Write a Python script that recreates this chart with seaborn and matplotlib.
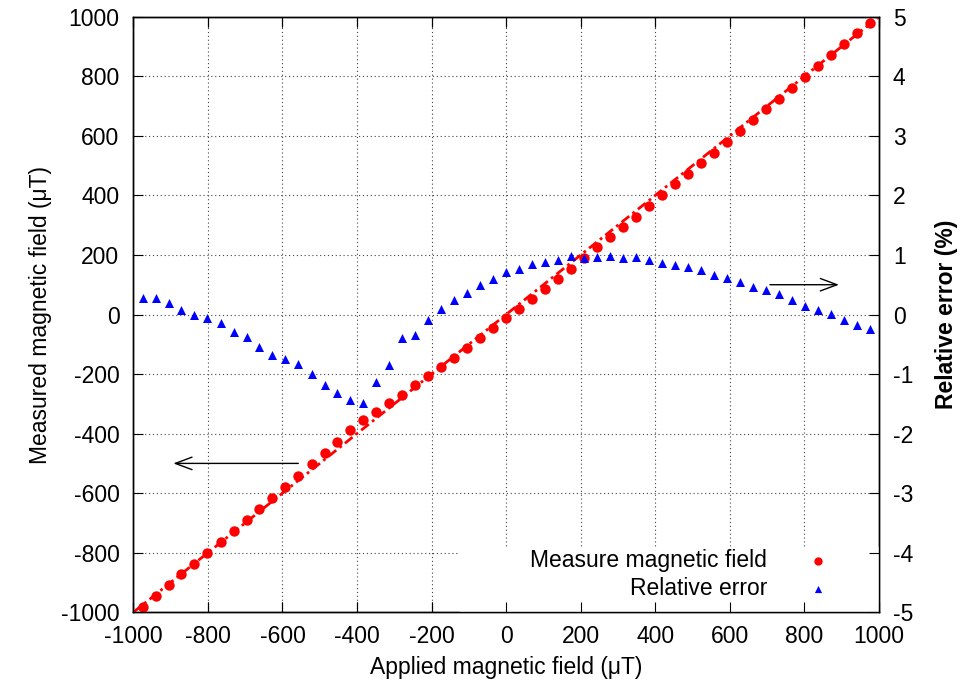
import matplotlib
matplotlib.use("Agg")
import matplotlib.pyplot as plt
import seaborn as sns
from matplotlib.patches import Rectangle

# applied field (uT), measured field (uT) and relative error (%)
applied_field = [
    -975, -940, -905, -871, -836, -801, -766, -731, -696, -662,
    -627, -592, -557, -522, -487, -453, -418, -383, -348, -313,
    -279, -244, -209, -174, -139, -104, -70, -35, 0, 35,
    70, 104, 139, 174, 209, 244, 279, 313, 348, 383,
    418, 453, 487, 522, 557, 592, 627, 662, 696, 731,
    766, 801, 836, 871, 905, 940, 975,
]
measured_field = [
    -981, -945, -909, -872, -838, -800, -765, -726, -690, -652,
    -615, -578, -542, -503, -466, -427, -389, -354, -326, -296,
    -270, -237, -206, -175, -145, -111, -78, -47, -13, 20,
    52, 85, 119, 153, 191, 226, 259, 295, 328, 365,
    401, 437, 472, 508, 543, 580, 616, 653, 689, 724,
    762, 799, 835, 871, 908, 944, 980,
]
relative_error = [
    0.27, 0.28, 0.19, 0.08, -0.01, -0.06, -0.14, -0.29, -0.38, -0.54,
    -0.68, -0.74, -0.83, -1.00, -1.18, -1.31, -1.44, -1.49, -1.14, -0.85,
    -0.39, -0.35, -0.09, 0.09, 0.24, 0.36, 0.49, 0.59, 0.71, 0.76,
    0.84, 0.88, 0.92, 0.98, 0.95, 0.96, 0.99, 0.95, 0.97, 0.91,
    0.87, 0.83, 0.80, 0.74, 0.67, 0.61, 0.54, 0.46, 0.41, 0.35,
    0.25, 0.15, 0.08, 0.01, -0.09, -0.18, -0.25,
]
ideal_x = [-1000, 1000]
ideal_y = [-1000, 1000]

field_ticks = list(range(-1000, 1001, 200))
error_ticks = list(range(-5, 6))

FS = 16.5

sns.set_style("white", rc={"text.color": "black", "axes.labelcolor": "black",
                           "xtick.color": "black", "ytick.color": "black",
                           "axes.edgecolor": "black"})
plt.rcParams["font.family"] = ["Liberation Sans", "DejaVu Sans"]
plt.rcParams["axes.unicode_minus"] = False

fig = plt.figure(figsize=(9.62, 6.88), dpi=100)
ax = fig.add_axes([133.3 / 962, 75.7 / 688, 745.7 / 962, 595.6 / 688])
ax2 = ax.twinx()

# y = x reference line, then the measurements
sns.lineplot(x=ideal_x, y=ideal_y, ax=ax, color="red", linewidth=2,
             linestyle=(0, (3.5, 1.5, 1, 1.5)), zorder=3, legend=False)
sns.scatterplot(x=applied_field, y=measured_field, ax=ax, color="red", marker="o",
                s=56, linewidth=0, zorder=4, label="Measure magnetic field", legend=False)
sns.scatterplot(x=applied_field, y=relative_error, ax=ax2, color="blue", marker="^",
                s=42, linewidth=0, zorder=4, label="Relative error", legend=False)

ax.set_xlim(-1000, 1000)
ax.set_ylim(-1000, 1000)
ax2.set_ylim(-5, 5)
ax.set_xticks(field_ticks)
ax.set_yticks(field_ticks)
ax2.set_yticks(error_ticks)

ax.grid(True, color="#444444", linestyle=(0, (1, 2.5)), linewidth=0.8)
ax.tick_params(axis="both", direction="in", length=7, width=0.8, labelsize=FS,
               colors="black", pad=10)
ax.tick_params(axis="x", top=True, bottom=True, pad=9)
ax.tick_params(axis="y", left=True, right=False)
ax2.tick_params(axis="y", direction="in", length=7, width=0.8, labelsize=FS,
                colors="black", right=True, pad=10)
# ax2 redraws the x ticks so they stay above the legend's white box
ax2.xaxis.set_visible(True)
ax2.tick_params(axis="x", direction="in", length=7, width=0.8, bottom=True, top=True,
                labelbottom=False, labeltop=False)

for a in (ax, ax2):
    for sp in a.spines.values():
        sp.set_color("black")
        sp.set_linewidth(1)

ax.set_xlabel("Applied magnetic field (\u03bcT)", fontsize=FS, labelpad=6)
ax.set_ylabel("Measured magnetic field (\u03bcT)", fontsize=FS, labelpad=6)
ax2.set_ylabel("Relative error (%)", fontsize=FS, fontweight="bold", labelpad=16)

ax.annotate("", xy=(-900, -500), xytext=(-550, -500),
            arrowprops=dict(arrowstyle="->,head_length=0.8,head_width=0.3",
                            color="black", lw=1, mutation_scale=15))
ax2.annotate("", xy=(900, 0.5), xytext=(700, 0.5),
             arrowprops=dict(arrowstyle="->,head_length=0.8,head_width=0.3",
                             color="black", lw=1, mutation_scale=15))

# white key box that hides the grid behind the legend
ax2.add_patch(Rectangle((0.438, 0.0), 0.562, 0.1096, transform=ax2.transAxes,
                        facecolor="white", edgecolor="none", zorder=0.1))

h1, l1 = ax.get_legend_handles_labels()
h2, l2 = ax2.get_legend_handles_labels()
leg = ax2.legend(h1 + h2, l1 + l2, loc="lower right", bbox_to_anchor=(0.933, 0.02),
                 frameon=False, markerfirst=False, fontsize=FS, handlelength=1.0,
                 handletextpad=1.7, labelspacing=0.25, borderpad=0, borderaxespad=0,
                 markerscale=0.8)

fig.savefig("out.png", dpi=100)
